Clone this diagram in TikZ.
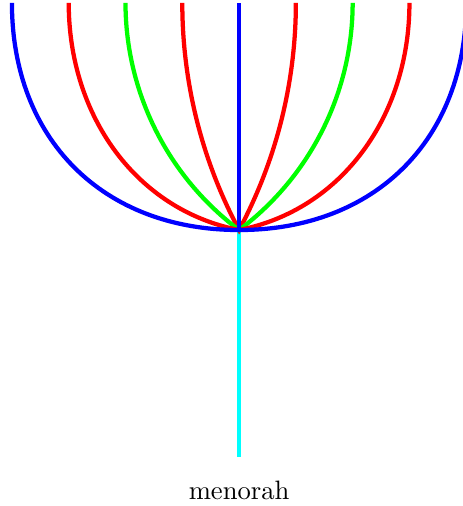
\documentclass[tikz,border=0pt]{standalone}
\usepackage{tikz}
\definecolor{stemcyan}{RGB}{0,255,255}

\begin{document}
\begin{tikzpicture}[scale=0.75, arm/.style={line width=1.6pt}]
    \useasboundingbox (-4.21,-4.86) rectangle (3.93,4.05);
    \coordinate (base) at (0,0);
    \coordinate (foot) at (0,-4);
    \coordinate (top) at (0,4);
    \draw[arm, stemcyan] (base) -- (foot);
    % arms: x / colour / upper control y / lower control x,y
    \foreach \x/\c/\p/\qx/\qy in {1/red/2.605/0.657/1.23, 2/green/2.43/1.258/0.943,
                                  3/red/2.0/1.8/0.35, 4/blue/1.6/2.4/0} {
        \draw[arm, \c] (-\x,4) .. controls (-\x,\p) and (-\qx,\qy) .. (base)
            .. controls (\qx,\qy) and (\x,\p) .. (\x,4);
    }
    \draw[arm, blue] (base) -- (top);
    \node (name) at (0,-4.58) {menorah};
\end{tikzpicture}
\end{document}
